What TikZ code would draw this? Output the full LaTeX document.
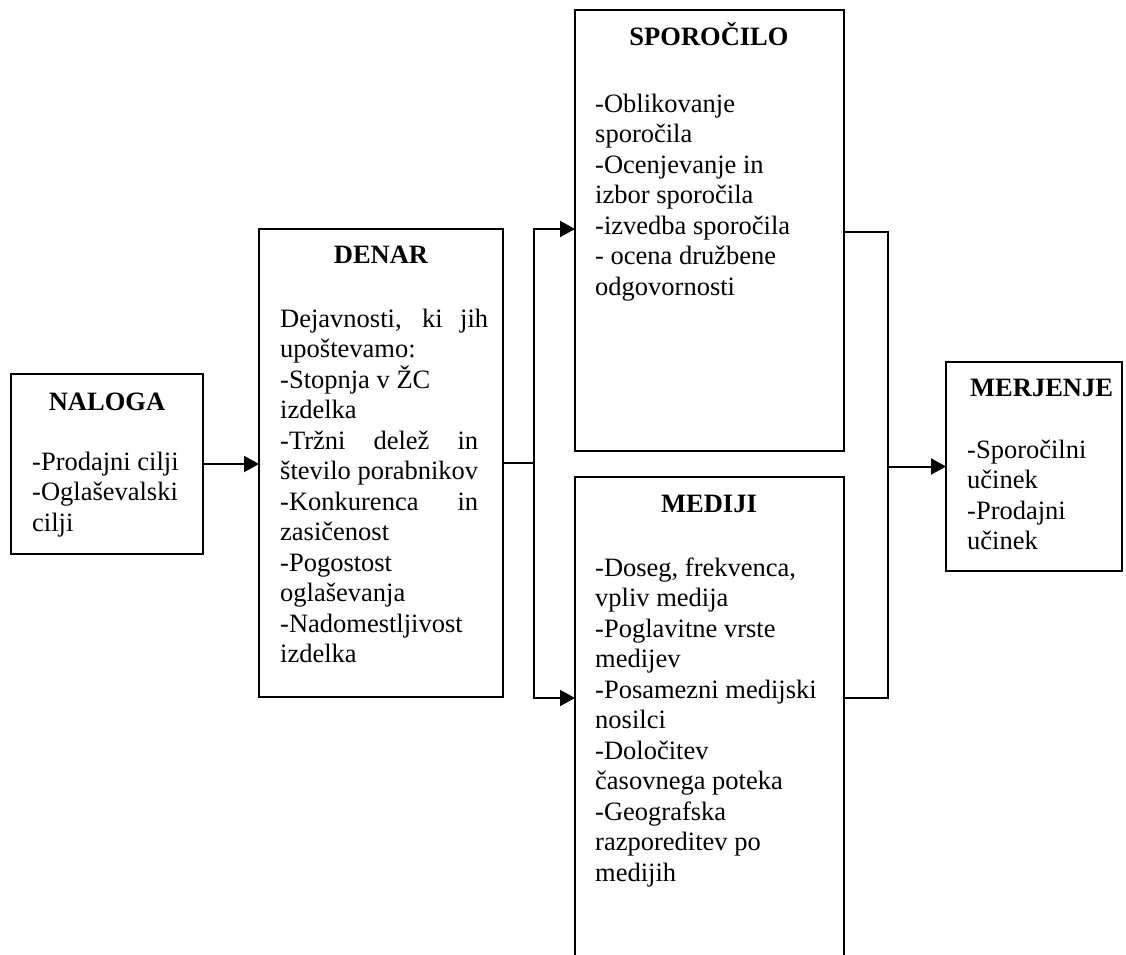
\documentclass[tikz,border=0pt]{standalone}
\usepackage{fontspec}
\setmainfont{Liberation Serif}
\usetikzlibrary{arrows.meta}
\newcommand{\ml}[1]{\vtop{#1}}
\begin{document}
\begin{tikzpicture}[x=1pt,y=-1pt,
  box/.style={draw, line width=2pt, inner sep=0pt, outer sep=0pt, anchor=north west},
  conn/.style={line width=2pt},
  arr/.style={conn, -{Triangle[length=15pt,width=16pt]}},
  ttl/.style={font=\fontsize{26.5}{30.5}\selectfont\bfseries, anchor=base, inner sep=0pt},
  txt/.style={font=\fontsize{26.5}{30.5}\selectfont, anchor=base west, inner sep=0pt}]
\clip (0,0) rectangle (1126,954);
\fill[white] (0,0) rectangle (1126,954);

% boxes
\node[box, minimum width=192pt, minimum height=180pt] (naloga) at (11,374) {};
\node[box, minimum width=244pt, minimum height=468pt] (denar) at (259,229) {};
\node[box, minimum width=269pt, minimum height=441pt] (sporocilo) at (575,10) {};
\node[box, minimum width=269pt, minimum height=503pt] (mediji) at (575,477) {};
\node[box, minimum width=176pt, minimum height=209pt] (merjenje) at (946,362) {};

% titles
\node[ttl] (tNaloga) at (107,410) {NALOGA};
\node[ttl] (tDenar) at (381,263) {DENAR};
\node[ttl] (tSpor) at (709,45) {SPOROČILO};
\node[ttl] (tMed) at (709,512) {MEDIJI};
\node[ttl, anchor=base west] (tMer) at (970,396) {MERJENJE};

% bodies
\node[txt] (bNaloga) at (32,470) {\ml{\hbox{-Prodajni cilji}\hbox{-Oglaševalski}\hbox{cilji}}};
\node[txt] (bDenar) at (280,327) {\ml{\hbox to 208pt{Dejavnosti, ki jih}\hbox{upoštevamo:}\hbox{-Stopnja v ŽC}\hbox{izdelka}\hbox to 198pt{-Tržni delež in}\hbox{število porabnikov}\hbox to 198pt{-Konkurenca in}\hbox{zasičenost}\hbox{-Pogostost}\hbox{oglaševanja}\hbox{-Nadomestljivost}\hbox{izdelka}}};
\node[txt] (bSpor) at (595,112) {\ml{\hbox{-Oblikovanje}\hbox{sporočila}\hbox{-Ocenjevanje in}\hbox{izbor sporočila}\hbox{-izvedba sporočila}\hbox{- ocena družbene}\hbox{odgovornosti}}};
\node[txt] (bMed) at (595,576) {\ml{\hbox{-Doseg, frekvenca,}\hbox{vpliv medija}\hbox{-Poglavitne vrste}\hbox{medijev}\hbox{-Posamezni medijski}\hbox{nosilci}\hbox{-Določitev}\hbox{časovnega poteka}\hbox{-Geografska}\hbox{razporeditev po}\hbox{medijih}}};
\node[txt] (bMer) at (967,458) {\ml{\hbox{-Sporočilni}\hbox{učinek}\hbox{-Prodajni}\hbox{učinek}}};

% connectors
\coordinate (jLt) at (534,229);
\coordinate (jLb) at (534,698);
\coordinate (jRt) at (888,232);
\coordinate (jRb) at (888,698);
\draw[arr] (naloga.east) -- (naloga.east -| denar.west);
\draw[conn] (denar.east) -- (denar.east -| jLt);
\draw[arr] (denar.east -| jLt) -- (jLt) -- (jLt -| sporocilo.west);
\draw[arr] (denar.east -| jLb) -- (jLb) -- (jLb -| mediji.west);
\draw[conn] (jRt -| sporocilo.east) -- (jRt) -- (jRb) -- (jRb -| mediji.east);
\draw[arr] (merjenje.west -| jRt) -- (merjenje.west);
\end{tikzpicture}
\end{document}
